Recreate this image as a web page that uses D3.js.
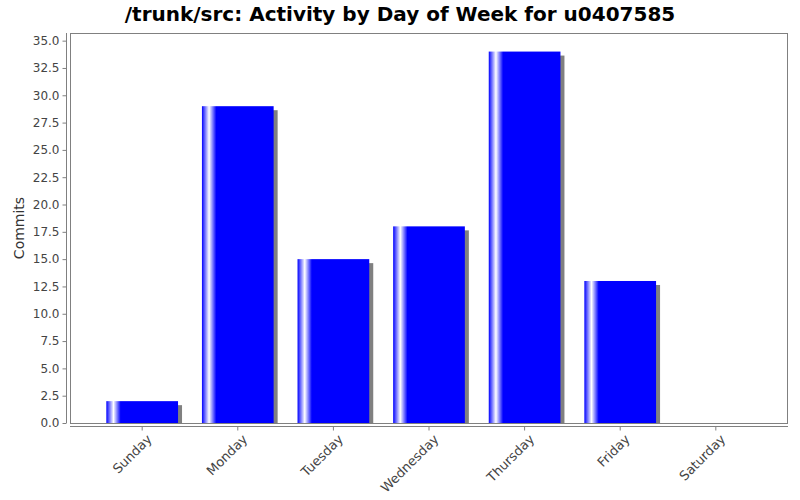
<!DOCTYPE html>
<html><head><meta charset="utf-8">
<script src="https://cdn.jsdelivr.net/npm/d3@7"></script>
<style>body{margin:0;background:#fff}svg{display:block}</style>
</head><body><svg id="c" width="800" height="500"></svg>
<script>
const titleText = "/trunk/src: Activity by Day of Week for u0407585";
const yLabel = "Commits";
const days = ["Sunday","Monday","Tuesday","Wednesday","Thursday","Friday","Saturday"];
const commits = [2, 29, 15, 18, 34, 13, 0];
const yTicks = [0,2.5,5,7.5,10,12.5,15,17.5,20,22.5,25,27.5,30,32.5,35];

const svg = d3.select("#c");
const L = 70, R = 788, T = 33, B = 423;
const font = "DejaVu Sans, sans-serif";

const defs = svg.append("defs");
const g = defs.append("linearGradient").attr("id","barg").attr("x1","0").attr("x2","1").attr("y1","0").attr("y2","0");
g.append("stop").attr("offset","0").attr("stop-color","#0000ff");
g.append("stop").attr("offset","0.1").attr("stop-color","#ffffff");
g.append("stop").attr("offset","0.2").attr("stop-color","#0000ff");
g.append("stop").attr("offset","1").attr("stop-color","#0000ff");
defs.append("clipPath").attr("id","pc").append("rect").attr("x",L).attr("y",T).attr("width",R-L).attr("height",B-T);

const x = d3.scaleBand().domain(days).range([L,R]).paddingInner(0.25).paddingOuter(0.38);
const y = d3.scaleLinear().domain([0,35.7]).range([B,T]);

svg.append("text").attr("x",400).attr("y",21).attr("text-anchor","middle")
  .attr("font-family",font).attr("font-weight","bold").attr("font-size",20).attr("fill","#000").text(titleText);

svg.append("rect").attr("x",L+0.5).attr("y",T+0.5).attr("width",R-L-1).attr("height",B-T).attr("fill","#fff").attr("stroke","#808080");

const bars = svg.append("g").attr("clip-path","url(#pc)");
bars.selectAll("rect.s").data(days).enter().append("rect")
  .attr("x",d=>x(d)+4).attr("y",(d,i)=>y(commits[i])+4).attr("width",x.bandwidth())
  .attr("height",(d,i)=>Math.max(0,B-y(commits[i]))).attr("fill","#808080");
bars.selectAll("rect.b").data(days).enter().append("rect")
  .attr("x",d=>x(d)).attr("y",(d,i)=>y(commits[i])).attr("width",x.bandwidth())
  .attr("height",(d,i)=>Math.max(0,B-y(commits[i]))).attr("fill","url(#barg)");

const ya = svg.append("g").attr("transform",`translate(${L-3.5},0)`)
  .call(d3.axisLeft(y).tickValues(yTicks).tickFormat(d3.format(".1f")).tickSize(4).tickPadding(3));
ya.select(".domain").attr("stroke","#808080").attr("d",`M-0,${T}V${B}`);
ya.selectAll(".tick line").attr("stroke","#808080");
ya.selectAll(".tick text").attr("font-family",font).attr("font-size",12).attr("fill","#444");

const xa = svg.append("g").attr("transform",`translate(0,${B+3.5})`)
  .call(d3.axisBottom(x).tickSize(4).tickPadding(2));
xa.select(".domain").attr("stroke","#808080").attr("d",`M${L},0H${R}`);
xa.selectAll(".tick line").attr("stroke","#808080");
xa.selectAll(".tick text").attr("font-family",font).attr("font-size",13).attr("fill","#444")
  .attr("text-anchor","end").attr("dy","0.35em").attr("transform","translate(3,6) rotate(-45)");

svg.append("text").attr("transform","translate(24,228) rotate(-90)").attr("text-anchor","middle")
  .attr("font-family",font).attr("font-size",14).attr("fill","#333").text(yLabel);
</script></body></html>
